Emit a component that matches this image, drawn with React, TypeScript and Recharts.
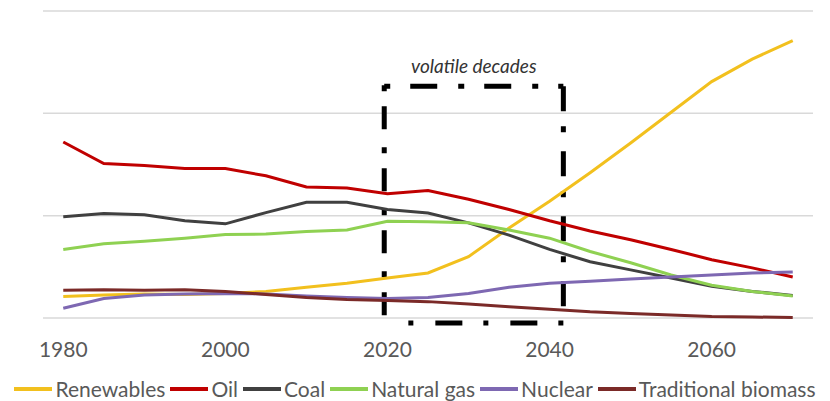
import React from "react";
import {
  LineChart,
  Line,
  XAxis,
  YAxis,
  CartesianGrid,
  Legend,
  ReferenceArea,
  ReferenceLine,
} from "recharts";

const years = [
  1980, 1985, 1990, 1995, 2000, 2005, 2010, 2015, 2020, 2025, 2030, 2035, 2040,
  2045, 2050, 2055, 2060, 2065, 2070,
];
const renewables = [21, 22.5, 23.5, 23, 24, 26, 30, 34, 39, 44, 60, 88, 114, 142, 171, 201, 231, 253, 271];
const oil = [172, 151, 149, 146, 146, 139, 128, 127, 121.5, 124.5, 116, 106, 95, 85, 76.5, 67, 57, 49, 40];
const coal = [99, 102, 101, 95, 92, 103, 113, 113, 106, 102.5, 93, 81, 67, 55, 47, 39, 31, 26, 22];
const naturalGas = [67, 72.5, 75, 78, 81.5, 82, 84.5, 86, 94.5, 94, 93, 86, 78, 65, 54, 42, 32, 26, 21.5];
const nuclear = [9.5, 19, 22.5, 23.5, 24, 23.5, 21.5, 20, 19, 20, 24, 30, 34, 36, 38, 40, 42, 44, 45];
const biomass = [27, 27.5, 27, 27.5, 26, 23, 20, 18, 17, 16, 13.7, 11, 8.5, 6, 4.5, 3, 1.5, 1, 0.5];

const xTicks = [1980, 2000, 2020, 2040, 2060];
const yTicks = [0, 100, 200, 300];

// the "volatile decades" window
const boxX = [2019.6, 2041.7];
const boxY = [-5, 226.5];

const series = [
  { key: "renewables", name: "Renewables", color: "#F2C01E", values: renewables },
  { key: "oil", name: "Oil", color: "#C00000", values: oil },
  { key: "coal", name: "Coal", color: "#404040", values: coal },
  { key: "gas", name: "Natural gas", color: "#8FD152", values: naturalGas },
  { key: "nuclear", name: "Nuclear", color: "#7E68B2", values: nuclear },
  { key: "biomass", name: "Traditional biomass", color: "#7B2A28", values: biomass },
];

const data = years.map((year, i) => {
  const row: Record<string, number> = { year };
  series.forEach((s) => {
    row[s.key] = s.values[i];
  });
  return row;
});

const font = "Lato, 'Open Sans', sans-serif";

function LegendBox() {
  return (
    <div
      style={{
        height: 40,
        display: "flex",
        alignItems: "flex-end",
        justifyContent: "center",
        fontFamily: font,
        fontSize: 21,
        color: "#595959",
        paddingBottom: 0,
      }}
    >
      {series.map((s, i) => (
        <div
          key={s.key}
          style={{ display: "flex", alignItems: "center", marginRight: i < series.length - 1 ? 5 : 0 }}
        >
          <span
            style={{
              display: "inline-block",
              width: 38,
              height: 4,
              background: s.color,
              marginRight: 3,
            }}
          />
          <span>{s.name}</span>
        </div>
      ))}
    </div>
  );
}

export default function App() {
  return (
    <div style={{ position: "absolute", left: 0, top: 0, width: 830, height: 401, background: "#fff" }}>
      <LineChart
        width={830}
        height={401}
        data={data}
        margin={{ top: 11, right: 17, left: 43, bottom: 0 }}
      >
        <CartesianGrid horizontal vertical={false} stroke="#D9D9D9" strokeWidth={1.5} />
        <XAxis
          dataKey="year"
          type="number"
          domain={[1977.5, 2072.5]}
          ticks={xTicks}
          height={43}
          tickSize={0}
          tickMargin={24}
          axisLine={false}
          tick={{ fill: "#595959", fontSize: 21, fontFamily: font }}
        />
        <YAxis hide domain={[0, 300]} ticks={yTicks} />
        <ReferenceArea
          x1={boxX[0]}
          x2={boxX[1]}
          y1={boxY[0]}
          y2={boxY[1]}
          ifOverflow="visible"
          fill="none"
          stroke="none"
          label={{
            value: "volatile decades",
            position: "top",
            offset: 13,
            fill: "#333333",
            fontSize: 19,
            fontStyle: "italic",
            fontFamily: font,
          }}
        />
        <ReferenceLine
          segment={[{ x: boxX[0], y: boxY[1] }, { x: boxX[1], y: boxY[1] }]}
          ifOverflow="visible"
          stroke="#000"
          strokeWidth={5}
          strokeDasharray="6 20 27 21"
        />
        <ReferenceLine
          segment={[{ x: boxX[0], y: boxY[1] + 1 }, { x: boxX[0], y: boxY[0] - 1 }]}
          ifOverflow="visible"
          stroke="#000"
          strokeWidth={5}
          strokeDasharray="6 15 23 18"
        />
        <ReferenceLine
          segment={[{ x: boxX[1], y: boxY[1] }, { x: boxX[1], y: boxY[0] + 15 }]}
          ifOverflow="visible"
          stroke="#000"
          strokeWidth={5}
          strokeDasharray="25 15 6 19"
        />
        <ReferenceLine
          segment={[{ x: boxX[1], y: boxY[0] }, { x: boxX[0] + 2, y: boxY[0] }]}
          ifOverflow="visible"
          stroke="#000"
          strokeWidth={5}
          strokeDasharray="5 21 27 22"
        />
        {series.map((s) => (
          <Line
            key={s.key}
            type="linear"
            dataKey={s.key}
            name={s.name}
            stroke={s.color}
            strokeWidth={3}
            dot={false}
            isAnimationActive={false}
          />
        ))}
        <Legend
          verticalAlign="bottom"
          height={40}
          wrapperStyle={{ left: 0, width: 830 }}
          content={() => <LegendBox />}
        />
      </LineChart>
    </div>
  );
}
